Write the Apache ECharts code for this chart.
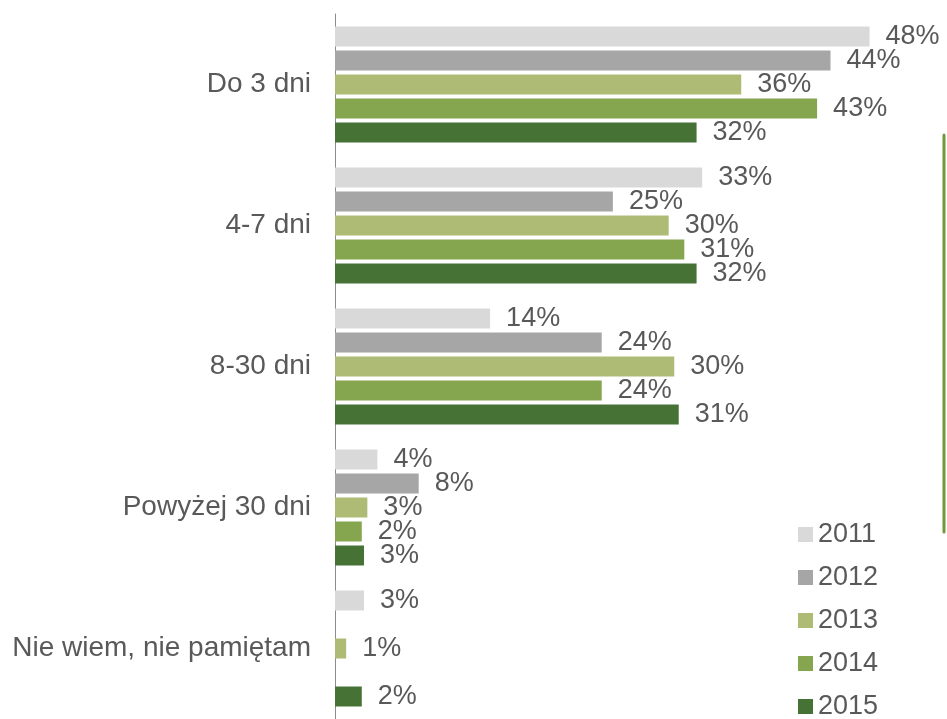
<!DOCTYPE html>
<html>
<head>
<meta charset="utf-8">
<title>Czas</title>
<script src="https://cdn.jsdelivr.net/npm/echarts@6/dist/echarts.min.js"></script>
<style>
html, body { margin: 0; padding: 0; background: #fff; }
#myChart { width: 947px; height: 719px; }
</style>
</head>
<body>
<div id="myChart"></div>
<script>
var categories = ['Do 3 dni', '4-7 dni', '8-30 dni', 'Powyżej 30 dni', 'Nie wiem, nie pamiętam'];
var years = ['2011', '2012', '2013', '2014', '2015'];

// values (labels show rounded %)
var v2011 = [47.9, 32.9, 13.9, 3.8, 2.6];
var v2012 = [44.4, 24.9, 23.9, 7.5, null];
var v2013 = [36.4, 29.9, 30.4, 2.9, 1.0];
var v2014 = [43.2, 31.3, 23.9, 2.4, null];
var v2015 = [32.4, 32.4, 30.8, 2.6, 2.4];

var colors = ['#d9d9d9', '#a6a6a6', '#aebb75', '#85a64f', '#467236'];
var txt = '#595959';
var fontName = '"Liberation Sans", Arial, sans-serif';

var Chart = {};

Chart.buildSeries = function() {
	var data = [v2011, v2012, v2013, v2014, v2015];
	var list = [];
	for (var i = 0; i < years.length; i++) {
		list.push({
			name : years[i],
			type : 'bar',
			data : data[i],
			barWidth : 20,
			barGap : '20%',
			itemStyle : { color : colors[i] },
			label : {
				show : true,
				position : 'right',
				distance : 16,
				color : txt,
				fontSize : 27,
				fontFamily : fontName,
				formatter : function(p) {
					if (p.value == null) return '';
					return Math.round(p.value) + '%';
				}
			}
		});
	}
	return list;
};

Chart.init = function() {
	var myChart = echarts.init(document.getElementById('myChart'));
	var option = {
		animation : false,
		textStyle : { fontFamily : fontName },
		grid : { left : 335, right : 54, top : 14, bottom : 0 },
		legend : {
			orient : 'vertical',
			left : 798,
			top : 521,
			height : 230,
			padding : 0,
			itemWidth : 15,
			itemHeight : 15,
			itemGap : 16,
			icon : 'rect',
			textStyle : { color : txt, fontSize : 27, fontFamily : fontName },
			data : years
		},
		xAxis : {
			type : 'value',
			min : 0,
			max : 50,
			show : false
		},
		yAxis : {
			type : 'category',
			inverse : true,
			data : categories,
			axisLine : { lineStyle : { color : '#8c8c8c', width : 1 } },
			axisTick : { length : 8, lineStyle : { color : '#8c8c8c' } },
			axisLabel : { color : txt, fontSize : 28, fontFamily : fontName, margin : 24 }
		},
		graphic : [ {
			type : 'line',
			shape : { x1 : 944, y1 : 135, x2 : 944, y2 : 532 },
			style : { stroke : '#6e9a3d', lineWidth : 3, lineCap : 'round' }
		} ],
		series : Chart.buildSeries()
	};
	myChart.setOption(option);
};

Chart.init();
</script>
</body>
</html>
